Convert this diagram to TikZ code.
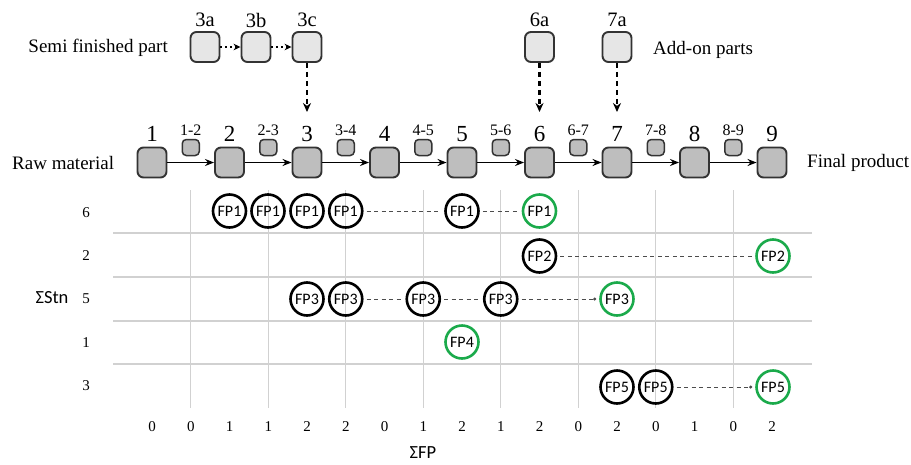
\documentclass[tikz,border=0pt]{standalone}
\usepackage{fontspec}
\setmainfont{Liberation Serif}
\newfontfamily\carl{Carlito}
\usetikzlibrary{arrows.meta}
\definecolor{fpgreen}{HTML}{1BAA4B}
\definecolor{boxgray}{HTML}{BEBEBE}
\definecolor{lightbox}{HTML}{E6E6E6}
\begin{document}
\begin{tikzpicture}[x=1pt,y=-1pt,
  stbox/.style={draw=black!80, line width=1.9pt, rounded corners=6pt, fill=boxgray, minimum width=29pt, minimum height=30pt, inner sep=0pt},
  topbox/.style={stbox, fill=lightbox},
  smallbox/.style={draw=black!80, line width=1.5pt, rounded corners=4pt, fill=boxgray, minimum width=17pt, minimum height=16pt, inner sep=0pt},
  stlab/.style={font=\fontsize{23}{23}\selectfont, inner sep=0pt},
  smlab/.style={font=\fontsize{16}{16}\selectfont, inner sep=0pt},
  toplab/.style={font=\fontsize{20.5}{20.5}\selectfont, inner sep=0pt},
  sidetext/.style={font=\fontsize{19}{19}\selectfont, inner sep=0pt},
  mainarrow/.style={line width=1.8pt, -{Stealth[length=9pt,width=7pt]}},
  dotarrow/.style={line width=2pt, dash pattern=on 2pt off 3pt, -{Stealth[length=7pt,width=6.5pt]}},
  dasharrow/.style={line width=2.2pt, dash pattern=on 5pt off 4pt, -{Stealth[length=9pt,width=8pt]}},
  gridline/.style={draw=black!18, line width=1.1pt},
  fpc/.style={circle, draw=black, line width=2.6pt, minimum size=33pt, inner sep=0pt, font=\carl\fontsize{16}{16}\selectfont},
  fpg/.style={fpc, draw=fpgreen},
  fpdash/.style={draw=black!70, line width=1pt, dash pattern=on 4pt off 3.5pt, shorten <=3pt, shorten >=3pt},
  fpdot/.style={fpdash, -{Circle[length=3pt]}},
  rowlab/.style={font=\fontsize{15}{15}\selectfont, inner sep=0pt},
  axnum/.style={font=\fontsize{15}{15}\selectfont, inner sep=0pt},
  axtitle/.style={font=\carl\fontsize{18.5}{18.5}\selectfont, inner sep=0pt}
]
\useasboundingbox (0,0) rectangle (911,464);

% grid
\foreach \k in {1,...,8}
  \draw[gridline] ({152+77.5*(\k-0.5)},190) -- ({152+77.5*(\k-0.5)},408);
\foreach \yy in {233,277,321,364}
  \draw[gridline] (113,\yy) -- (812,\yy);

% stations
\foreach \i in {1,...,9} {
  \node[stbox] (s\i) at ({152+77.5*(\i-1)},162.5) {};
  \node[stlab] (l\i) at ({152+77.5*(\i-1)},134) {\i};
}
\foreach \i/\j in {1/2,2/3,3/4,4/5,5/6,6/7,7/8,8/9} {
  \node[smallbox] (m\i) at ({152+77.5*(\i-0.5)},147.5) {};
  \node[smlab] (ml\i) at ({152+77.5*(\i-0.5)},130) {\i-\j};
  \draw[mainarrow] (s\i) -- (s\j);
}

% top parts
\node[topbox] (t3a) at (205,47) {};
\node[topbox] (t3b) at (256,47) {};
\node[topbox] (t3c) at (307,47) {};
\node[topbox] (t6a) at (539.5,47) {};
\node[topbox] (t7a) at (617,47) {};
\node[toplab] at (205,20) {3a};
\node[toplab] at (256,20) {3b};
\node[toplab] at (307,20) {3c};
\node[toplab] at (539.5,20) {6a};
\node[toplab] at (617,20) {7a};
\draw[dotarrow] (t3a) -- (t3b);
\draw[dotarrow] (t3b) -- (t3c);
\coordinate (e3) at (307,112);
\coordinate (e6) at (539.5,112);
\coordinate (e7) at (617,112);
\draw[dasharrow] (t3c) -- (e3);
\draw[dasharrow] (t6a) -- (e6);
\draw[dasharrow] (t7a) -- (e7);

\node[sidetext, anchor=east] (semi) at (168,48) {Semi finished part};
\node[sidetext, anchor=west] (addon) at (653,50) {Add-on parts};
\node[sidetext, anchor=west] (raw) at (12,163) {Raw material};
\node[sidetext, anchor=west] (final) at (807,163) {Final product};

% row labels
\node[rowlab] (r1) at (86,213) {6};
\node[rowlab] (r2) at (86,256) {2};
\node[rowlab] (r3) at (86,299) {5};
\node[rowlab] (r4) at (86,343) {1};
\node[rowlab] (r5) at (86,386) {3};
\node[axtitle] (stn) at (52,298) {ΣStn};
\node[axtitle] (sfp) at (423,453) {ΣFP};

% bottom numbers
\foreach \v [count=\k] in {0,0,1,1,2,2,0,1,2,1,2,0,2,0,1,0,2}
  \node[axnum] (n\k) at ({152+38.75*(\k-1)},427) {\v};

% FP1
\node[fpc] (a1) at (229.5,211) {FP1};
\node[fpc] (a2) at (268,211) {FP1};
\node[fpc] (a3) at (307,211) {FP1};
\node[fpc] (a4) at (345.75,211) {FP1};
\node[fpc] (a5) at (462,211) {FP1};
\node[fpg] (a6) at (539.5,211) {FP1};
\draw[fpdash] (a4) -- (a5);
\draw[fpdash] (a5) -- (a6);
% FP2
\node[fpc] (b1) at (539.5,256) {FP2};
\node[fpg] (b2) at (773,256) {FP2};
\draw[fpdash] (b1) -- (b2);
% FP3
\node[fpc] (c1) at (307,299) {FP3};
\node[fpc] (c2) at (345.75,299) {FP3};
\node[fpc] (c3) at (423.25,299) {FP3};
\node[fpc] (c4) at (500.75,299) {FP3};
\node[fpg] (c5) at (617,299) {FP3};
\draw[fpdash] (c2) -- (c3);
\draw[fpdash] (c3) -- (c4);
\draw[fpdot] (c4) -- (c5);
% FP4
\node[fpg] (d1) at (462,342) {FP4};
% FP5
\node[fpc] (f1) at (617,387) {FP5};
\node[fpc] (f2) at (655.75,387) {FP5};
\node[fpg] (f3) at (773,387) {FP5};
\draw[fpdot] (f2) -- (f3);
\end{tikzpicture}
\end{document}
